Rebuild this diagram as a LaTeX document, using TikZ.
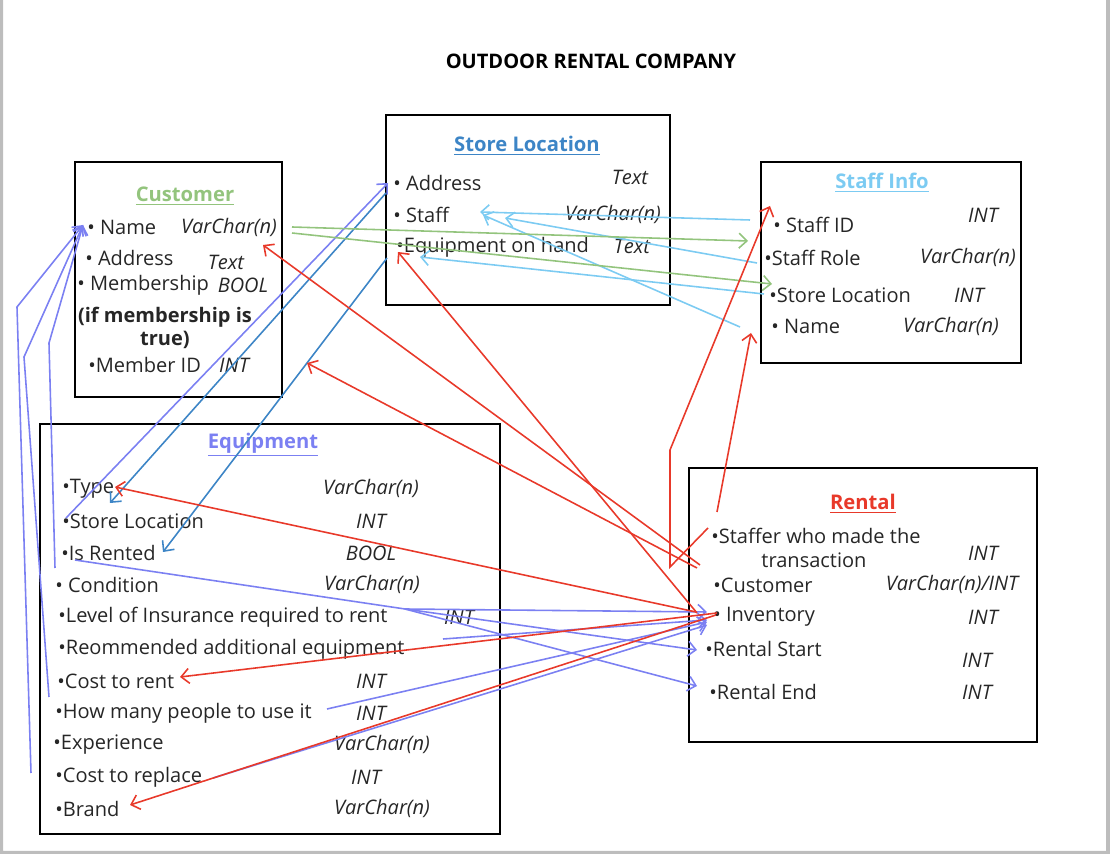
\documentclass[tikz,border=0pt]{standalone}
\usepackage{fontspec}
\setmainfont{Open Sans}
\usetikzlibrary{arrows.meta}
\definecolor{custgreen}{HTML}{93C47D}
\definecolor{storeblue}{HTML}{3D85C6}
\definecolor{staffblue}{HTML}{7CCBF2}
\definecolor{equipblue}{HTML}{7B80F2}
\definecolor{rentred}{HTML}{E8392A}
\definecolor{itemgray}{HTML}{262626}
\definecolor{framegray}{HTML}{BDBDBD}
\tikzset{entity/.style={draw, line width=1.4pt, inner sep=0pt},
         heading/.style={inner sep=0pt, yshift=-1.1pt, font=\fontsize{11.5}{14}\selectfont\bfseries},
         item/.style={anchor=west, inner sep=0pt, yshift=-1.1pt, text=itemgray, font=\fontsize{11.4}{13.4}\selectfont},
         kind/.style={inner sep=0pt, yshift=-1.1pt, text=itemgray, font=\fontsize{11.4}{13.4}\selectfont\itshape},
         link/.style={line width=0.9pt, -{Straight Barb[length=4.5pt,width=8.5pt]}},
        }

\begin{document}
\begin{tikzpicture}[x=0.02cm, y=-0.02cm]
        \useasboundingbox (0,0) rectangle (1110,854);
        \fill[framegray] (0,0) rectangle (3,854) (1106,0) rectangle (1110,854) (0,851) rectangle (1110,854);

        \node[yshift=-1.1pt, font=\fontsize{11.4}{13}\selectfont\bfseries](title)at(591,59){OUTDOOR RENTAL COMPANY};

        % the five tables
        \node[entity, minimum width=4.14cm, minimum height=4.70cm](customer)at(178.5,279.5){};
        \node[entity, minimum width=5.68cm, minimum height=3.80cm](store)at(528,210){};
        \node[entity, minimum width=5.20cm, minimum height=4.02cm](staff)at(891,262.5){};
        \node[entity, minimum width=9.20cm, minimum height=8.20cm](equip)at(270,629){};
        \node[entity, minimum width=6.96cm, minimum height=5.48cm](rental)at(863,605){};

        % customer
        \node[heading, text=custgreen](ctitle)at(185,194){\underline{Customer}};
        \node[item](cname)at(87,226){• Name};
        \node[kind](cnamet)at(229,226){VarChar(n)};
        \node[item](caddr)at(85,256){• Address};
        \node[kind](caddrt)at(226,261){Text};
        \node[item](cmem)at(77,283){• Membership};
        \node[kind](cmemt)at(243,283){BOOL};
        \node[item, anchor=center, align=center, font=\fontsize{11.4}{13}\selectfont\bfseries](cnote)at(165,326){(if membership is\\true)};
        \node[item](cid)at(88,363){•Member ID};
        \node[kind](cidt)at(234,363){INT};

        % store location
        \node[heading, text=storeblue](stitle)at(527,144){\underline{Store Location}};
        \node[item](saddr)at(393,181){• Address};
        \node[kind](saddrt)at(630,176){Text};
        \node[item](sstaff)at(393,213){• Staff};
        \node[kind](sstafft)at(613,213){VarChar(n)};
        \node[item](sequip)at(396,245){•Equipment on hand};
        \node[kind](sequipt)at(632,245){Text};

        % staff info
        \node[heading, text=staffblue](ftitle)at(882,181){\underline{Staff Info}};
        \node[item](fid)at(773,223){• Staff ID};
        \node[kind](fidt)at(983,213){INT};
        \node[item](frole)at(764,256){•Staff Role};
        \node[kind](frolet)at(968,256){VarChar(n)};
        \node[item](floc)at(769,293){•Store Location};
        \node[kind](floct)at(969,293){INT};
        \node[item](fname)at(771,325){• Name};
        \node[kind](fnamet)at(951,325){VarChar(n)};

        % equipment
        \node[heading, text=equipblue](etitle)at(263,443){\underline{Equipment}};
        \node[item](etype)at(62,487){•Type};
        \node[kind](etypet)at(371,487){VarChar(n)};
        \node[item](eloc)at(62,519){•Store Location};
        \node[kind](eloct)at(371,519){INT};
        \node[item](erent)at(61,551){•Is Rented};
        \node[kind](erentt)at(371,551){BOOL};
        \node[item](econd)at(55,583){• Condition};
        \node[kind](econdt)at(372,583){VarChar(n)};
        \node[item](eins)at(58,615){•Level of Insurance required to rent};
        \node[kind](einst)at(459,615){INT};
        \node[item](erec)at(58,647){•Reommended additional equipment};
        \node[item](ecost)at(57,679){•Cost to rent};
        \node[kind](ecostt)at(371,679){INT};
        \node[item](epeople)at(55,711){•How many people to use it};
        \node[kind](epeoplet)at(371,711){INT};
        \node[item](eexp)at(53,743){•Experience};
        \node[kind](eexpt)at(382,743){VarChar(n)};
        \node[item](erepl)at(55,775){•Cost to replace};
        \node[kind](erept)at(366,775){INT};
        \node[item](ebrand)at(55,807){•Brand};
        \node[kind](ebrandt)at(382,807){VarChar(n)};

        % rental
        \node[heading, text=rentred](rtitle)at(863,502){\underline{Rental}};
        \node[item](rstaffer)at(711,534){•Staffer who made the};
        \node[item, anchor=center](rtrans)at(814,558){transaction};
        \node[kind](rstaffert)at(983,551){INT};
        \node[item](rcust)at(713,583){•Customer};
        \node[kind](rcustt)at(952,583){VarChar(n)/INT};
        \node[item](rinv)at(713,615){• Inventory};
        \node[kind](rinvt)at(983,615){INT};
        \node[item](rstart)at(705,647){•Rental Start};
        \node[kind](rstartt)at(977,658){INT};
        \node[item](rend)at(709,690){•Rental End};
        \node[kind](rendt)at(977,690){INT};

        % connector ends
        \coordinate(cin)at(83,225);
        \coordinate(k1)at(17,307);
        \coordinate(k2)at(24,357);
        \coordinate(k3)at(49,343);
        \coordinate(e1)at(31,773);
        \coordinate(e2)at(49,697);
        \coordinate(e3)at(55,568);
        \coordinate(elocout)at(66,518);
        \coordinate(saddrin)at(388,183);
        \coordinate(erentout)at(75,560);
        \coordinate(fork)at(405,609);
        \coordinate(inv1)at(707,612);
        \coordinate(inv2)at(707,620);
        \coordinate(inv3)at(707,622);
        \coordinate(inv4)at(707,625);
        \coordinate(startin)at(697,650);
        \coordinate(endin)at(697,686);
        \coordinate(recout)at(443,639);
        \coordinate(peopleout)at(327,709);
        \coordinate(replout)at(213,778);
        \coordinate(sout1)at(386,193);
        \coordinate(sout2)at(387,258);
        \coordinate(typein)at(110,503);
        \coordinate(rentin)at(163,552);
        \coordinate(f1)at(750,220);
        \coordinate(f2)at(757,263);
        \coordinate(f3)at(740,327);
        \coordinate(f4)at(764,294);
        \coordinate(staffin1)at(480,212);
        \coordinate(staffin2)at(505,218);
        \coordinate(staffin3)at(483,215);
        \coordinate(equipin)at(420,257);
        \coordinate(cg1)at(292,227);
        \coordinate(cg2)at(292,233);
        \coordinate(rolein)at(748,241);
        \coordinate(locin)at(772,284);
        \coordinate(ra)at(700,565);
        \coordinate(rb)at(697,568);
        \coordinate(rc)at(697,613);
        \coordinate(rd)at(696,612);
        \coordinate(re)at(717,613);
        \coordinate(rf)at(716,615);
        \coordinate(rg)at(717,512);
        \coordinate(rh)at(708,528);
        \coordinate(bend1)at(670,567);
        \coordinate(bend2)at(670,450);
        \coordinate(cnamein)at(263,245);
        \coordinate(cidin)at(307,363);
        \coordinate(sequipin)at(398,252);
        \coordinate(etypein)at(115,487);
        \coordinate(fidin)at(770,206);
        \coordinate(fnamein)at(751,333);
        \coordinate(ecostin)at(180,677);
        \coordinate(ebrandin)at(130,805);

        % equipment links
        \draw[link, equipblue](e1)--(k1)--(cin);
        \draw[link, equipblue](e2)--(k2)--(cin);
        \draw[link, equipblue](e3)--(k3)--(cin);
        \draw[link, equipblue](elocout)--(saddrin);
        \draw[line width=0.9pt, equipblue](erentout)--(fork);
        \draw[link, equipblue](fork)--(inv1);
        \draw[link, equipblue](fork)--(startin);
        \draw[link, equipblue](fork)--(endin);
        \draw[link, equipblue](recout)--(inv2);
        \draw[link, equipblue](peopleout)--(inv3);
        \draw[link, equipblue](replout)--(inv4);

        % store links
        \draw[link, storeblue](sout1)--(typein);
        \draw[link, storeblue](sout2)--(rentin);

        % staff links
        \draw[link, staffblue](f1)--(staffin1);
        \draw[link, staffblue](f2)--(staffin2);
        \draw[link, staffblue](f3)--(staffin3);
        \draw[link, staffblue](f4)--(equipin);

        % customer links
        \draw[link, custgreen](cg1)--(rolein);
        \draw[link, custgreen](cg2)--(locin);

        % rental links
        \draw[link, rentred](ra)--(cnamein);
        \draw[link, rentred](rb)--(cidin);
        \draw[link, rentred](rc)--(sequipin);
        \draw[link, rentred](rd)--(etypein);
        \draw[link, rentred](rh)--(bend1)--(bend2)--(fidin);
        \draw[link, rentred](rg)--(fnamein);
        \draw[link, rentred](re)--(ecostin);
        \draw[link, rentred](rf)--(ebrandin);
    \end{tikzpicture}
\end{document}
